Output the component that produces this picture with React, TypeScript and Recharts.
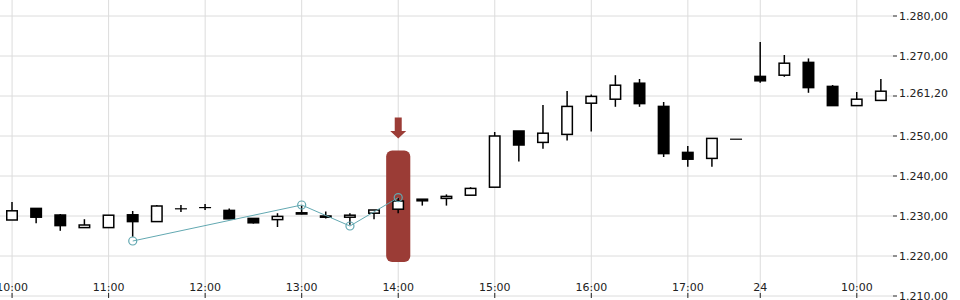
import React from 'react';
import { ComposedChart, Bar, Line, XAxis, YAxis, CartesianGrid, ReferenceArea, ReferenceDot } from 'recharts';

const times = [
  '10:00', '10:15', '10:30', '10:45', '11:00', '11:15', '11:30', '11:45',
  '12:00', '12:15', '12:30', '12:45', '13:00', '13:15', '13:30', '13:45',
  '14:00', '14:15', '14:30', '14:45', '15:00', '15:15', '15:30', '15:45',
  '16:00', '16:15', '16:30', '16:45', '17:00', '17:15', '17:30',
  '24', '09:15', '09:30', '09:45', '10:00', '10:15',
];
const opens = [
  1229.0, 1231.9, 1230.25, 1227.1, 1227.1, 1230.3, 1228.6, 1231.6,
  1231.9, 1231.4, 1229.4, 1229.1, 1230.8, 1230.0, 1229.7, 1230.7,
  1231.7, 1234.2, 1234.4, 1235.2, 1237.2, 1251.25, 1248.4, 1250.4,
  1258.2, 1259.2, 1263.2, 1257.4, 1245.9, 1244.4, 1249.2,
  1264.9, 1265.2, 1268.4, 1262.4, 1257.6, 1258.9,
];
const highs = [
  1233.5, 1231.9, 1230.5, 1229.2, 1230.2, 1231.25, 1232.75, 1232.75,
  1233.0, 1231.9, 1229.4, 1230.7, 1232.6, 1231.1, 1230.7, 1231.5,
  1234.5, 1234.2, 1235.4, 1237.2, 1251.0, 1251.25, 1257.75, 1261.25,
  1260.4, 1265.2, 1264.25, 1258.5, 1247.5, 1249.4, 1249.2,
  1273.5, 1270.25, 1269.4, 1262.75, 1261.0, 1264.25,
];
const lows = [
  1229.0, 1228.2, 1226.3, 1227.1, 1227.1, 1224.8, 1228.6, 1231.0,
  1231.5, 1229.3, 1228.1, 1227.25, 1230.4, 1229.4, 1227.8, 1229.2,
  1230.7, 1232.6, 1232.6, 1235.2, 1237.2, 1243.6, 1246.8, 1248.9,
  1251.1, 1257.3, 1257.3, 1244.75, 1242.3, 1242.3, 1249.2,
  1263.3, 1264.8, 1260.8, 1257.6, 1257.6, 1258.9,
];
const closes = [
  1231.3, 1229.7, 1227.6, 1227.75, 1230.2, 1228.6, 1232.5, 1231.8,
  1232.1, 1229.3, 1228.3, 1229.9, 1230.5, 1229.7, 1230.2, 1231.5,
  1233.75, 1233.8, 1234.9, 1236.9, 1250.0, 1247.75, 1250.7, 1257.4,
  1259.9, 1262.7, 1258.1, 1245.6, 1244.2, 1249.4, 1249.2,
  1263.8, 1268.2, 1262.1, 1257.6, 1259.2, 1261.2,
];
const zigzagIdx = [5, 12, 14, 16];
const zigzagVals = [1223.75, 1232.75, 1227.5, 1234.6];
const xTickIdx = [0, 4, 8, 12, 16, 20, 24, 28, 31, 35];
const yTicks = [1210, 1220, 1230, 1240, 1250, 1260, 1270, 1280];
const lastPrice = 1261.2;
const highlightIdx = 16;
const highlightLow = 1218.5;
const highlightHigh = 1246.4;
const arrowTip = 1249.4;

const data = times.map((t, i) => {
  const zi = zigzagIdx.indexOf(i);
  return {
    i,
    t,
    open: opens[i],
    high: highs[i],
    low: lows[i],
    close: closes[i],
    zz: zi >= 0 ? zigzagVals[zi] : null,
  };
});

const fmt = (v: number) => {
  const [int, dec] = v.toFixed(2).split('.');
  return `${int.replace(/\B(?=(\d{3})+(?!\d))/g, '.')},${dec}`;
};

const Candle = (props: any) => {
  const { x, y, width, height, payload } = props;
  const { open, close, high, low } = payload;
  const k = high > low ? height / (high - low) : 0;
  const py = (v: number) => y + (high - v) * k;
  const cx = x + width / 2;
  const up = close >= open;
  const top = py(Math.max(open, close));
  const bot = py(Math.min(open, close));
  const bh = bot - top;
  return (
    <g>
      {height > 0 && <line x1={cx} x2={cx} y1={y} y2={y + height} stroke="#000" strokeWidth={1.5} />}
      {bh < 1 ? (
        <line x1={x} x2={x + width} y1={top} y2={top} stroke="#000" strokeWidth={up ? 1.2 : 2} />
      ) : (
        <rect x={x + 0.75} y={top} width={width - 1.5} height={bh} fill={up ? '#fff' : '#000'} stroke="#000" strokeWidth={1.5} />
      )}
    </g>
  );
};

const XTick = (props: any) => {
  const { x, y, payload } = props;
  return (
    <g>
      <line x1={x} x2={x} y1={y - 3} y2={y + 2} stroke="#222" strokeWidth={1} />
      <text x={x} y={y - 5} textAnchor="middle" fill="#222" fontSize={11} fontFamily="DejaVu Sans">
        {times[payload.value]}
      </text>
    </g>
  );
};

const YTick = (props: any) => {
  const { x, y, payload } = props;
  const isLast = payload.value === 1260;
  return (
    <g>
      <line x1={x - 6} x2={x - 2} y1={y} y2={y} stroke="#222" strokeWidth={1} />
      <text x={x} y={isLast ? y - 3 : y} dy="0.355em" textAnchor="start" fill="#222" fontSize={11} fontFamily="DejaVu Sans">
        {isLast ? fmt(lastPrice) : fmt(payload.value)}
      </text>
    </g>
  );
};

const HighlightShape = (p: any) => (
  <rect x={p.x} y={p.y} width={p.width} height={p.height} rx={6} ry={6} fill="#9b3c36" />
);

const ArrowShape = (p: any) => {
  const { cx, cy } = p;
  const pts = [
    [cx - 3.5, cy - 21],
    [cx + 3.5, cy - 21],
    [cx + 3.5, cy - 7.5],
    [cx + 8, cy - 7.5],
    [cx, cy],
    [cx - 8, cy - 7.5],
    [cx - 3.5, cy - 7.5],
  ]
    .map((q) => q.join(','))
    .join(' ');
  return <polygon points={pts} fill="#9b3c36" />;
};

const ZzDot = (p: any) => {
  if (p.value == null) return <g key={p.index} />;
  return <circle key={p.index} cx={p.cx} cy={p.cy} r={4} fill="none" stroke="#62a8b1" strokeWidth={1.2} />;
};

export default function App() {
  return (
    <div style={{ position: 'absolute', left: 0, top: 0, width: 960, height: 300, background: '#fff' }}>
      <ComposedChart
        width={960}
        height={300}
        data={data}
        margin={{ top: 0, right: 0, bottom: 0, left: 0 }}
        style={{ fontFamily: 'DejaVu Sans' }}
      >
        <CartesianGrid stroke="#dcdcdc" strokeWidth={1} syncWithTicks />
        <XAxis
          dataKey="i"
          type="number"
          domain={[-0.5, 36.5]}
          ticks={xTickIdx}
          interval={0}
          height={4}
          tickSize={0}
          tickMargin={0}
          axisLine={false}
          tickLine={false}
          tick={<XTick />}
        />
        <YAxis
          orientation="right"
          type="number"
          domain={[1210, 1284]}
          ticks={yTicks}
          interval={0}
          allowDataOverflow
          width={67}
          axisLine={false}
          tickSize={0}
          tickMargin={6}
          tickLine={false}
          tick={<YTick />}
        />
        <ReferenceArea
          x1={highlightIdx - 0.5}
          x2={highlightIdx + 0.5}
          y1={highlightLow}
          y2={highlightHigh}
          shape={HighlightShape}
          ifOverflow="visible"
        />
        <ReferenceDot x={highlightIdx} y={arrowTip} shape={ArrowShape} ifOverflow="visible" />
        <Bar
          dataKey={(d: any) => [d.low, d.high]}
          barSize={12}
          shape={Candle}
          isAnimationActive={false}
        />
        <Line
          dataKey="zz"
          type="linear"
          stroke="#62a8b1"
          strokeWidth={1}
          connectNulls
          dot={ZzDot}
          activeDot={false}
          isAnimationActive={false}
        />
      </ComposedChart>
    </div>
  );
}
